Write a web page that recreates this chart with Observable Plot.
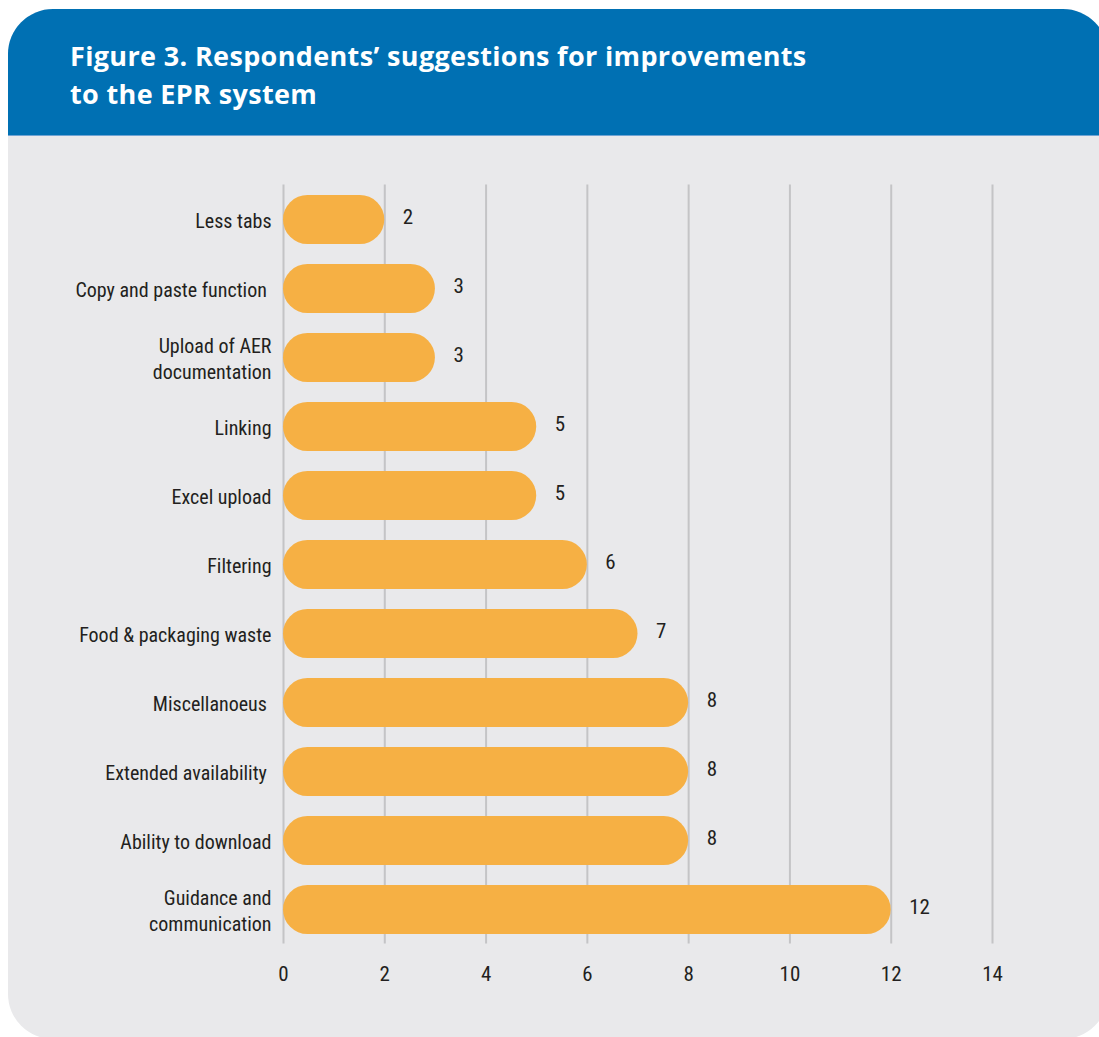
<!DOCTYPE html>
<html>
<head>
<meta charset="utf-8">
<script src="https://cdn.jsdelivr.net/npm/d3@7"></script>
<script src="https://cdn.jsdelivr.net/npm/@observablehq/plot@0.6"></script>
<style>
  html, body { margin: 0; padding: 0; background: #ffffff; }
  body { width: 1099px; height: 1037px; overflow: hidden; position: relative; }
  #card {
    position: absolute; left: 8px; top: 9px; width: 1100px; height: 1030px;
    border-radius: 45px; overflow: hidden; background: #e9e9eb;
  }
  #header {
    position: absolute; left: 0; top: 0; width: 100%; height: 126px;
    background: #0070b3; border-bottom: 1px solid #6fa3d3;
  }
  #title {
    position: absolute; left: 70px; top: 37px; margin: 0;
    font-family: "Open Sans", "Noto Sans", sans-serif; font-weight: 700;
    font-size: 27px; letter-spacing: 0.35px; line-height: 38px; color: #ffffff;
  }
  #chart { position: absolute; left: 0; top: 136px; }
</style>
</head>
<body>
<div id="card"><div id="header"></div></div>
<div id="title">Figure 3. Respondents’ suggestions for improvements<br>to the EPR system</div>
<div id="chart"></div>
<script>
const categories = [
  "Less tabs",
  "Copy and paste function\u00a0",
  "Upload of AER\ndocumentation",
  "Linking",
  "Excel upload",
  "Filtering",
  "Food & packaging waste",
  "Miscellanoeus\u00a0",
  "Extended availability\u00a0",
  "Ability to download",
  "Guidance and\ncommunication"
];
const values = [2, 3, 3, 5, 5, 6, 7, 8, 8, 8, 12];
const xTicks = [0, 2, 4, 6, 8, 10, 12, 14];

const data = categories.map((c, i) => ({category: c, value: values[i]}));

const font = '"Liberation Sans Narrow", "Roboto Condensed", "Arial Narrow", "DejaVu Sans Condensed", sans-serif';

const chart = Plot.plot({
  width: 1099,
  height: 901,
  marginLeft: 283,
  marginRight: 107,
  marginTop: 48.5,
  marginBottom: 93.5,
  style: {fontFamily: font, color: "#231f20", background: "transparent", overflow: "visible"},
  x: {domain: [0, 14], axis: null, label: null},
  y: {domain: categories, paddingInner: 0.29, paddingOuter: 0.145, axis: null, label: null},
  marks: [
    Plot.ruleX(xTicks, {stroke: "#c4c4c6", strokeWidth: 2}),
    Plot.barX(data, {x: "value", y: "category", fill: "#f6b044", rx: 24.5, ry: 24.5}),
    Plot.text(data, {x: "value", y: "category", text: d => String(d.value), dx: 18, dy: -3,
      textAnchor: "start", fontSize: 21, fill: "#231f20"}),
    Plot.text(data, {x: () => 0, y: "category", text: "category", dx: -12,
      textAnchor: "end", fontSize: 20, lineHeight: 1.3, fill: "#231f20"}),
    Plot.axisX(xTicks, {tickSize: 0, tickPadding: 22, fontSize: 21, fill: "#231f20", label: null})
  ]
});
document.getElementById("chart").appendChild(chart);
</script>
</body>
</html>
